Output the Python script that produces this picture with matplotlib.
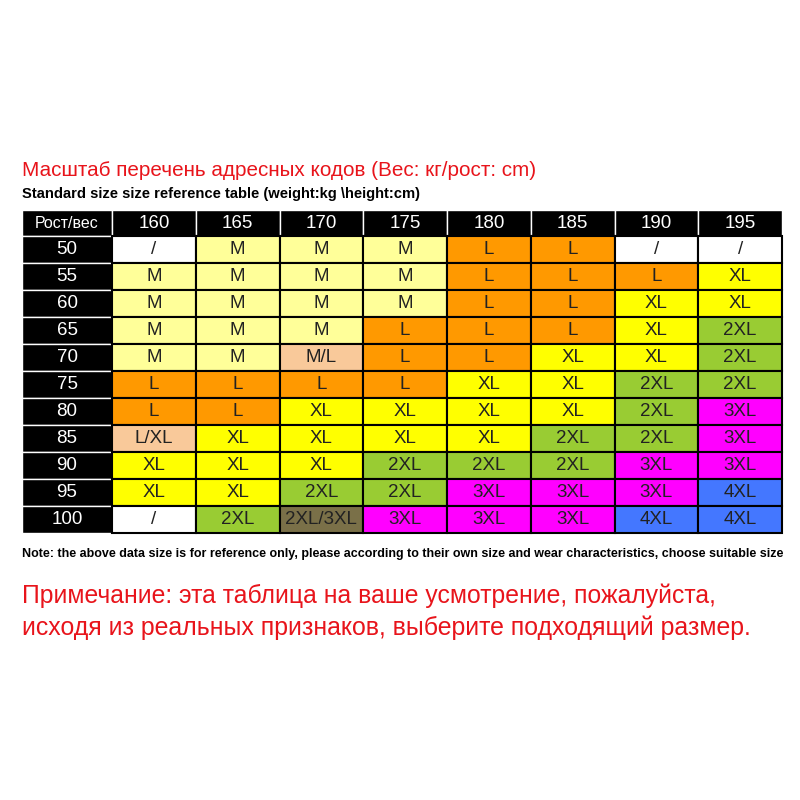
import matplotlib.pyplot as plt
from matplotlib.patches import Rectangle

# данные таблицы
weights = ["160", "165", "170", "175", "180", "185", "190", "195"]
heights = ["50", "55", "60", "65", "70", "75", "80", "85", "90", "95", "100"]
sizes = [
    ["/", "M", "M", "M", "L", "L", "/", "/"],
    ["M", "M", "M", "M", "L", "L", "L", "XL"],
    ["M", "M", "M", "M", "L", "L", "XL", "XL"],
    ["M", "M", "M", "L", "L", "L", "XL", "2XL"],
    ["M", "M", "M/L", "L", "L", "XL", "XL", "2XL"],
    ["L", "L", "L", "L", "XL", "XL", "2XL", "2XL"],
    ["L", "L", "XL", "XL", "XL", "XL", "2XL", "3XL"],
    ["L/XL", "XL", "XL", "XL", "XL", "2XL", "2XL", "3XL"],
    ["XL", "XL", "XL", "2XL", "2XL", "2XL", "3XL", "3XL"],
    ["XL", "XL", "2XL", "2XL", "3XL", "3XL", "3XL", "4XL"],
    ["/", "2XL", "2XL/3XL", "3XL", "3XL", "3XL", "4XL", "4XL"],
]

colors = {
    "/": "#FFFFFF", "M": "#FFFF99", "L": "#FF9900", "M/L": "#F9C99A",
    "L/XL": "#F9C99A", "XL": "#FFFF00", "2XL": "#99CC33", "3XL": "#FF00FF",
    "4XL": "#4477FF", "2XL/3XL": "#7A7048",
}

fig = plt.figure(figsize=(8, 8), dpi=100)
ax = fig.add_axes([0, 0, 1, 1])
ax.set_xlim(0, 800)
ax.set_ylim(800, 0)
ax.axis("off")

x0, first_w, cw = 22, 90, 83.75
y0, hh, rh = 210, 26, 27
sans = ["Liberation Sans", "DejaVu Sans"]

# заголовок
ax.add_patch(Rectangle((x0, y0), first_w, hh, fc="black", ec="white", lw=1))
ax.text(x0 + first_w / 2, y0 + hh / 2, "Рост/вес", color="white", fontsize=11.5,
        ha="center", va="center", family=sans)
for j, w in enumerate(weights):
    x = x0 + first_w + j * cw
    ax.add_patch(Rectangle((x, y0), cw, hh, fc="black", ec="white", lw=1))
    ax.text(x + cw / 2, y0 + hh / 2, w, color="white", fontsize=13.5,
            ha="center", va="center", family=sans)

for i, h in enumerate(heights):
    y = y0 + hh + i * rh
    ax.add_patch(Rectangle((x0, y), first_w, rh, fc="black", ec="white", lw=1))
    ax.text(x0 + first_w / 2, y + rh / 2, h, color="white", fontsize=13.5,
            ha="center", va="center", family=sans)
    for j, s in enumerate(sizes[i]):
        x = x0 + first_w + j * cw
        ax.add_patch(Rectangle((x, y), cw, rh, fc=colors[s], ec="black", lw=1.5))
        ax.text(x + cw / 2, y + rh / 2, s, color="#222222", fontsize=13.5,
                ha="center", va="center", family=sans)

texts = []
texts.append((ax.text(22, 170, "Масштаб перечень адресных кодов (Вес: кг/рост: cm)",
                      color="#E8141B", fontsize=14, ha="left", va="center",
                      family=sans), 516))
texts.append((ax.text(22, 194, "Standard size size reference table (weight:kg \\height:cm)",
                      color="black", fontsize=12, fontweight="bold", ha="left",
                      va="center", family=sans), 398))
texts.append((ax.text(22, 554, "Note: the above data size is for reference only, please "
                      "according to their own size and wear characteristics, choose suitable size",
                      color="black", fontsize=12, fontweight="bold", ha="left",
                      va="center", family=sans), 756))
texts.append((ax.text(22, 596, "Примечание: эта таблица на ваше усмотрение, пожалуйста,",
                      color="#E8141B", fontsize=18, ha="left", va="center",
                      family=sans), 696))
texts.append((ax.text(22, 628, "исходя из реальных признаков, выберите подходящий размер.",
                      color="#E8141B", fontsize=18, ha="left", va="center",
                      family=sans), 730))

# подгоняем ширину строк под оригинал
fig.canvas.draw()
r = fig.canvas.get_renderer()
for t, target in texts:
    wpx = t.get_window_extent(r).width
    t.set_fontsize(t.get_fontsize() * target / wpx)

fig.savefig("out.png", dpi=100, facecolor="white")
